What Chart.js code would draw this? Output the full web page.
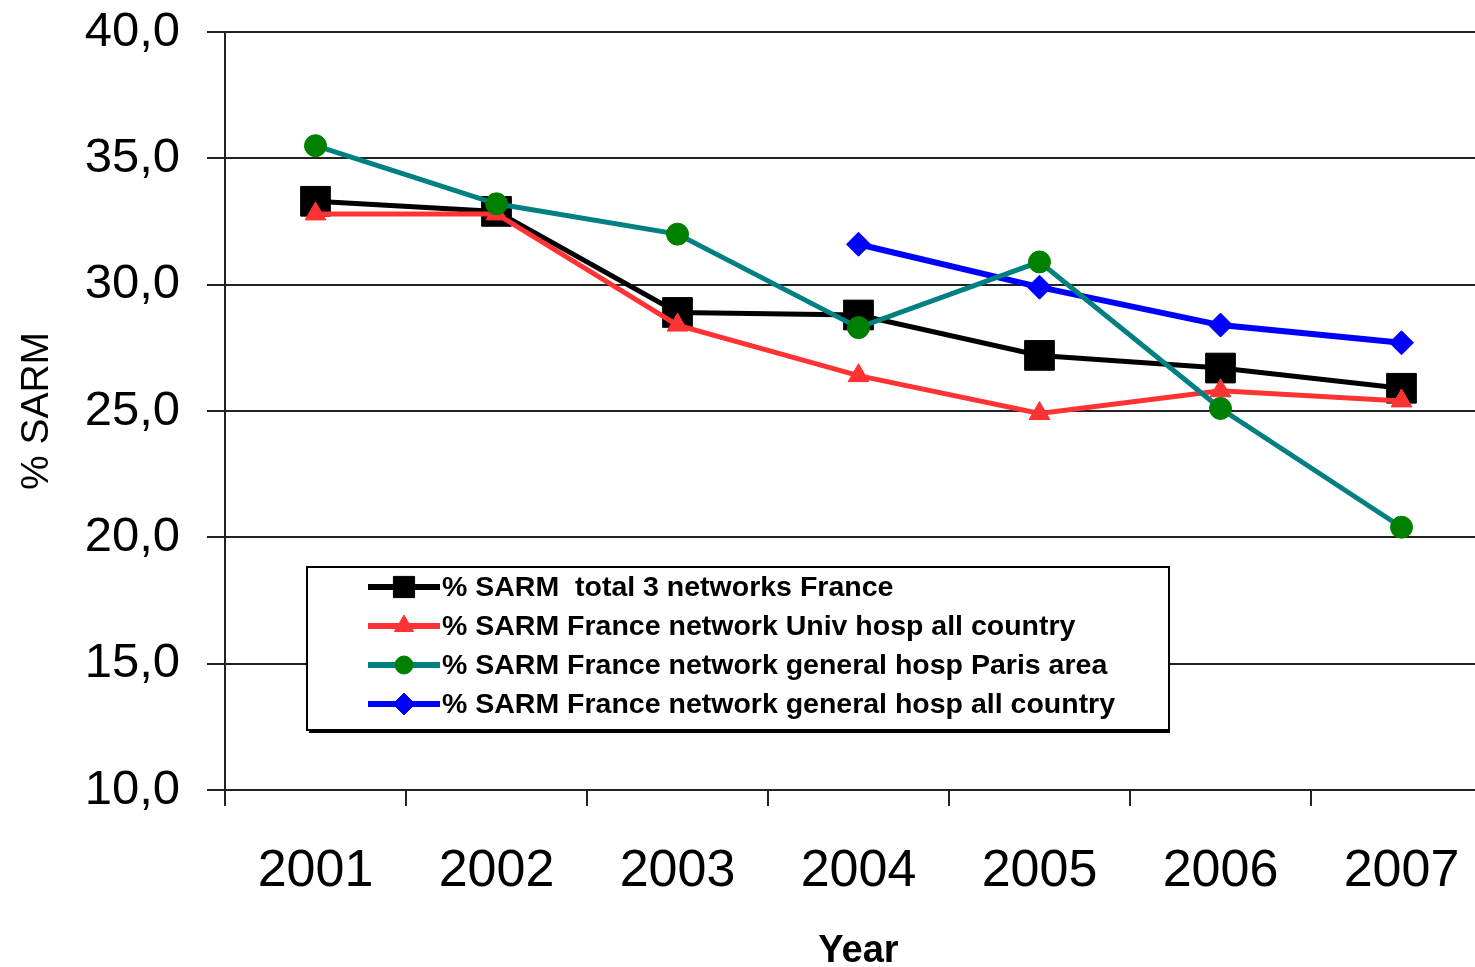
<!DOCTYPE html>
<html>
<head>
<meta charset="utf-8">
<script src="https://cdn.jsdelivr.net/npm/chart.js@4/dist/chart.umd.min.js"></script>
<style>
  html, body { margin: 0; padding: 0; background: #fff; overflow: hidden; }
  canvas { display: block; }
</style>
</head>
<body>
<!-- the original plot runs a little past the right edge of the picture,
     so the canvas is a bit wider than the window and gets cut off -->
<canvas id="chart" width="1492" height="967"></canvas>
<script>
// Data
const years = ["2001", "2002", "2003", "2004", "2005", "2006", "2007"];
const totalFrance = [33.3, 32.9, 28.9, 28.8, 27.2, 26.7, 25.9];
const univHosp = [32.8, 32.8, 28.4, 26.4, 24.9, 25.8, 25.4];
const generalParis = [35.5, 33.2, 32.0, 28.3, 30.9, 25.1, 20.4];
const generalCountry = [null, null, null, 31.6, 29.9, 28.4, 27.7];
const yTicks = [10, 15, 20, 25, 30, 35, 40];

const seriesNames = [
  "% SARM  total 3 networks France",
  "% SARM France network Univ hosp all country",
  "% SARM France network general hosp Paris area",
  "% SARM France network general hosp all country"
];

// Legend drawn inside the plot, like the original
const boxLegend = {
  id: "boxLegend",
  afterDatasetsDraw(chart) {
    const ctx = chart.ctx;
    const x = 307, y = 567, w = 862, h = 163;
    ctx.save();
    ctx.fillStyle = "#fff";
    ctx.fillRect(x, y, w, h);
    ctx.strokeStyle = "#000";
    ctx.lineWidth = 2;
    ctx.strokeRect(x, y, w, h);
    ctx.beginPath();
    ctx.moveTo(x + 2, y + h + 2);
    ctx.lineTo(x + w + 1, y + h + 2);
    ctx.stroke();

    chart.data.datasets.forEach((ds, row) => {
      const cy = y + 20 + row * 39;
      ctx.strokeStyle = ds.borderColor;
      ctx.lineWidth = 6;
      ctx.beginPath();
      ctx.moveTo(368, cy);
      ctx.lineTo(440, cy);
      ctx.stroke();
      ctx.fillStyle = ds.pointBackgroundColor;
      ctx.strokeStyle = ds.pointBorderColor;
      ctx.lineWidth = 1;
      Chart.helpers.drawPoint(ctx, {
        pointStyle: ds.pointStyle,
        radius: ds.legendRadius,
        borderWidth: 1
      }, 404, cy);
      ctx.fillStyle = "#000";
      ctx.font = "bold 28.5px 'Liberation Sans', Arial, sans-serif";
      ctx.textBaseline = "middle";
      ctx.textAlign = "left";
      ctx.fillText(seriesNames[row], 442, cy + 1);
    });
    ctx.restore();
  }
};

new Chart(document.getElementById("chart"), {
  type: "line",
  data: {
    labels: years,
    datasets: [
      {
        label: seriesNames[0],
        data: totalFrance,
        borderColor: "#000000",
        borderWidth: 5,
        pointStyle: "rect",
        pointRadius: 21,
        legendRadius: 15,
        pointBackgroundColor: "#000000",
        pointBorderColor: "#000000",
        pointBorderWidth: 1,
        order: 3
      },
      {
        label: seriesNames[1],
        data: univHosp,
        borderColor: "#ff3333",
        borderWidth: 5,
        pointStyle: "triangle",
        pointRadius: 12,
        legendRadius: 11,
        pointBackgroundColor: "#ff3333",
        pointBorderColor: "#ff3333",
        pointBorderWidth: 1,
        order: 2
      },
      {
        label: seriesNames[2],
        data: generalParis,
        borderColor: "#008080",
        borderWidth: 5,
        pointStyle: "circle",
        pointRadius: 11,
        legendRadius: 9,
        pointBackgroundColor: "#008000",
        pointBorderColor: "#008000",
        pointBorderWidth: 1,
        order: 0
      },
      {
        label: seriesNames[3],
        data: generalCountry,
        borderColor: "#0000ff",
        borderWidth: 6,
        pointStyle: "rectRot",
        pointRadius: 12,
        legendRadius: 11,
        pointBackgroundColor: "#0000ff",
        pointBorderColor: "#0000ff",
        pointBorderWidth: 1,
        order: 1
      }
    ]
  },
  options: {
    responsive: false,
    animation: false,
    layout: { autoPadding: false, padding: { top: 32, right: 0, left: 0, bottom: 0 } },
    plugins: {
      legend: { display: false },
      tooltip: { enabled: false }
    },
    scales: {
      x: {
        type: "category",
        offset: true,
        grid: {
          offset: true,
          drawOnChartArea: false,
          drawTicks: true,
          tickLength: 16,
          color: "#222",
          lineWidth: 2
        },
        border: { display: true, color: "#222", width: 2 },
        ticks: {
          color: "#000",
          padding: 34,
          font: { family: "'Liberation Sans', Arial, sans-serif", size: 52 },
          maxRotation: 0
        },
        title: {
          display: true,
          text: "Year",
          color: "#000",
          font: { family: "'Liberation Sans', Arial, sans-serif", size: 38, weight: "bold" },
          padding: { top: 0, bottom: -7 }
        },
        afterFit(scale) {
          scale.height = 177;
          scale.paddingLeft = 0;
          scale.paddingRight = 0;
        }
      },
      y: {
        min: 10,
        max: 40,
        afterBuildTicks(scale) { scale.ticks = yTicks.map(v => ({ value: v })); },
        grid: {
          color: "#222",
          lineWidth: 2,
          drawTicks: true,
          tickLength: 18
        },
        border: { display: true, color: "#222", width: 2 },
        ticks: {
          color: "#000",
          padding: 27,
          font: { family: "'Liberation Sans', Arial, sans-serif", size: 49 },
          callback: v => v.toFixed(1).replace(".", ",")
        },
        title: {
          display: true,
          text: "% SARM",
          color: "#000",
          font: { family: "'Liberation Sans', Arial, sans-serif", size: 39 },
          padding: { top: 14, bottom: 0 }
        },
        afterFit(scale) {
          scale.width = 225;
          scale.paddingTop = 0;
          scale.paddingBottom = 0;
        }
      }
    }
  },
  plugins: [boxLegend]
});
</script>
</body>
</html>
